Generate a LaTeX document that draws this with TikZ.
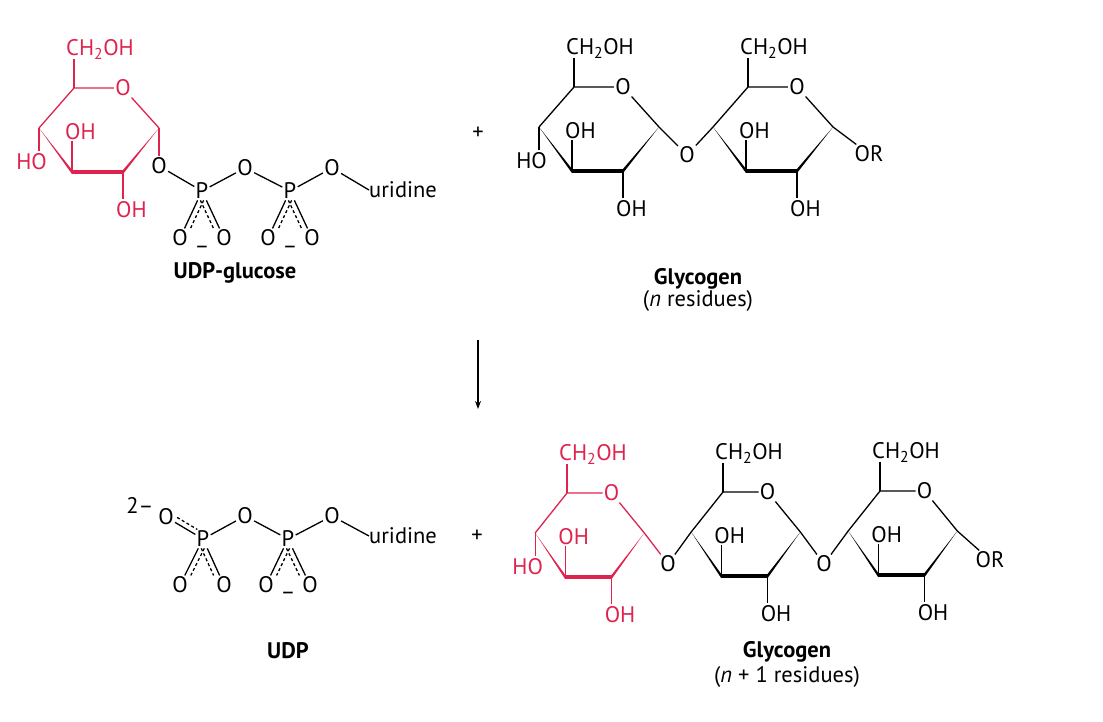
\documentclass[tikz,border=0pt]{standalone}
\usepackage{fontspec}
\setmainfont{PT Sans}
\usetikzlibrary{calc,arrows.meta}
\definecolor{gred}{RGB}{222,36,78}
\tikzset{
  atom/.style={inner sep=1.2pt,font=\fontsize{22.5}{24}\selectfont},
  lbl/.style={inner sep=0pt,font=\fontsize{22.5}{24}\selectfont},
  bond/.style={line width=1.3pt},
  boldbond/.style={line width=4.2pt},
  title/.style={inner sep=0pt,font=\fontsize{22.5}{24}\selectfont\bfseries},
  sub/.style={inner sep=0pt,font=\fontsize{22.5}{24}\selectfont},
  dbl/.style={bond,dashed,dash pattern=on 3pt off 2.5pt},
}
\newcommand\glcring[6]{%
\begin{scope}[shift={(#2,#3)},xscale=#5,#4]
\coordinate (#1c5) at (0,0);
\node[atom] (#1o) at (49,0) {O};
\coordinate (#1c1) at (85,40);
\coordinate (#1c2) at (49,84);
\coordinate (#1c3) at (-2,84);
\coordinate (#1c4) at (-35,40);
\draw[bond] (#1c4) -- (#1c5) -- (#1o) -- (#1c1);
\fill (#1c4) -- ($(#1c3)+(0,-2.1)$) -- ($(#1c3)+(0,2.1)$) -- cycle;
\fill (#1c1) -- ($(#1c2)+(0,-2.1)$) -- ($(#1c2)+(0,2.1)$) -- cycle;
\draw[boldbond] (#1c3) -- (#1c2);
\coordinate (#1t) at (0,-29);
\draw[bond] (#1c5) -- (#1t);
\node[lbl,anchor=south west,xshift=-8pt,yshift=-1pt] (#1ch) at (#1t) {CH\textsubscript{2}OH};
\ifnum#6=1
\coordinate (#1t4) at (-35,63);
\draw[bond] (#1c4) -- (#1t4);
\node[lbl,anchor=north east,xshift=8pt,yshift=-2pt] (#1ho) at (#1t4) {HO};
\fi
\coordinate (#1t3) at (-2,53);
\draw[bond] (#1c3) -- (#1t3);
\node[lbl,anchor=south west,xshift=-7pt,yshift=1pt] (#1oh3) at (#1t3) {OH};
\coordinate (#1t2) at (49,111);
\draw[bond] (#1c2) -- (#1t2);
\node[lbl,anchor=north west,xshift=-7pt,yshift=-2pt] (#1oh2) at (#1t2) {OH};
\end{scope}}
\begin{document}
\begin{tikzpicture}[x=1pt,y=-1pt]
\useasboundingbox (0,0) rectangle (1103,721);
% ---------- UDP-glucose ----------
\glcring{a}{74}{88}{gred}{1}{1}
\node[atom] (ao1) at (159,166) {O};
\draw[bond,gred] (ac1) -- (ao1);
\node[atom] (ap1) at (202,191) {P};
\node[atom] (aob) at (245,168) {O};
\node[atom] (ap2) at (290,191) {P};
\node[atom] (aou) at (332,168) {O};
\node[lbl,anchor=west] (aur) at (369,190) {uridine};
\draw[bond] (ao1) -- (ap1) -- (aob) -- (ap2) -- (aou) -- (aur.west);
\node[atom] (aq1) at (180,238) {O};
\node[atom] (aq2) at (224,238) {O};
\node[atom] (aq3) at (268,238) {O};
\node[atom] (aq4) at (312,238) {O};
\foreach \p/\l/\r in {ap1/aq1/aq2, ap2/aq3/aq4}{
  \draw[bond] (\p) -- (\l);
  \draw[dbl,transform canvas={xshift=6pt}] (\p) -- (\l);
  \draw[bond] (\p) -- (\r);
  \draw[dbl,transform canvas={xshift=-6pt}] (\p) -- (\r);
}
\node[atom] (am1) at (202,250) {–};
\node[atom] (am2) at (290,250) {–};
\node[title] (tudpg) at (235,273) {UDP-glucose};
\node[atom] (plus1) at (478,133) {+};
% ---------- Glycogen (n) ----------
\glcring{b}{574}{87}{black}{1}{1}
\glcring{c}{748}{87}{black}{1}{0}
\node[atom] (bgo) at (687,155) {O};
\draw[bond] (bc1) -- (bgo) -- (cc4);
\node[atom] (cor) at (869,154) {OR};
\draw[bond] (cc1) -- (cor);
\node[title] (tglyc1) at (698,279) {Glycogen};
\node[sub] (tres1) at (698,301) {(\textit{n} residues)};
% ---------- arrow ----------
\coordinate (ar1) at (478,340);
\coordinate (ar2) at (478,409);
\draw[line width=1.2pt,-{Stealth[length=8pt,width=6pt]}] (ar1) -- (ar2);
% ---------- UDP ----------
\node[lbl] (ch2) at (140,505) {2–};
\node[atom] (uo1) at (166,517) {O};
\node[atom] (up1) at (203,539) {P};
\node[atom] (uob) at (245,516) {O};
\node[atom] (up2) at (288,539) {P};
\node[atom] (uou) at (332,516) {O};
\node[lbl,anchor=west] (uur) at (369,536) {uridine};
\draw[bond] (uo1) -- (up1) -- (uob) -- (up2) -- (uou) -- (uur.west);
\draw[dbl,transform canvas={yshift=5pt,xshift=2pt}] (uo1) -- (up1);
\node[atom] (uq1) at (180,585) {O};
\node[atom] (uq2) at (224,585) {O};
\node[atom] (uq3) at (266,585) {O};
\node[atom] (uq4) at (310,585) {O};
\foreach \p/\l/\r in {up1/uq1/uq2, up2/uq3/uq4}{
  \draw[bond] (\p) -- (\l);
  \draw[dbl,transform canvas={xshift=6pt}] (\p) -- (\l);
  \draw[bond] (\p) -- (\r);
  \draw[dbl,transform canvas={xshift=-6pt}] (\p) -- (\r);
}
\node[atom] (um2) at (288,596) {–};
\node[title] (tudp) at (288,651) {UDP};
\node[atom] (plus2) at (477,536) {+};
% ---------- Glycogen (n+1) ----------
\glcring{d}{567}{493}{gred}{0.91}{1}
\glcring{e}{723}{492}{black}{0.91}{0}
\glcring{f}{880}{491}{black}{0.91}{0}
\node[atom] (dgo) at (668,564) {O};
\draw[bond,gred] (dc1) -- (dgo);
\draw[bond] (dgo) -- (ec4);
\node[atom] (ego) at (824,564) {O};
\draw[bond] (ec1) -- (ego) -- (fc4);
\node[atom] (for) at (990,560) {OR};
\draw[bond] (fc1) -- (for);
\node[title] (tglyc2) at (787,652) {Glycogen};
\node[sub] (tres2) at (787,677) {(\textit{n} + 1 residues)};
\end{tikzpicture}
\end{document}
